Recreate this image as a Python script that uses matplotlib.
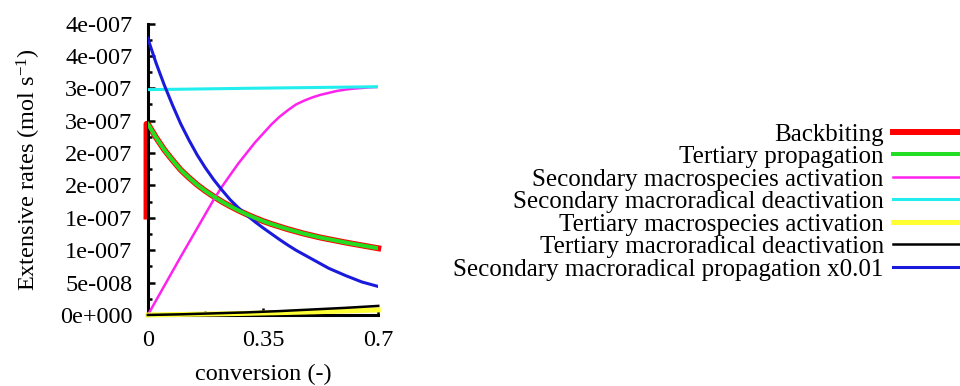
import numpy as np
import matplotlib
matplotlib.use("Agg")
import matplotlib.pyplot as plt
from matplotlib.ticker import FixedLocator

plt.rcParams['font.family'] = ['Liberation Serif', 'DejaVu Serif']
plt.rcParams['mathtext.fontset'] = 'custom'
plt.rcParams['mathtext.rm'] = 'Liberation Serif'
plt.rcParams['mathtext.default'] = 'regular'

# conversion grids (-)
conversion = [0.0, 0.025, 0.05, 0.075, 0.1, 0.125, 0.15, 0.175, 0.2, 0.225, 0.25, 0.275,
              0.3, 0.325, 0.35, 0.375, 0.4, 0.425, 0.45, 0.475, 0.5, 0.525, 0.55, 0.575,
              0.6, 0.625, 0.65, 0.675, 0.7]
conversion_coarse = [0.0, 0.1, 0.2, 0.3, 0.4, 0.5, 0.6, 0.7]

# rates in units of 1e-7 mol/s
tert_prop = [2.95, 2.74, 2.55, 2.39, 2.24, 2.12, 2.01, 1.915, 1.83, 1.75, 1.68, 1.615,
             1.555, 1.50, 1.45, 1.405, 1.365, 1.325, 1.29, 1.255, 1.225, 1.195, 1.17, 1.145,
             1.12, 1.097, 1.075, 1.052, 1.03]
backbiting_x = [-0.004, -0.004] + conversion
backbiting = [1.52, 2.95] + tert_prop
sec_spec_act = [0.0, 0.225, 0.45, 0.675, 0.90, 1.12, 1.34, 1.56, 1.78, 1.98, 2.16, 2.34,
                2.50, 2.66, 2.80, 2.94, 3.06, 3.16, 3.25, 3.31, 3.36, 3.40, 3.43, 3.46,
                3.48, 3.495, 3.505, 3.515, 3.52]
sec_rad_deact = [3.48, 3.486, 3.493, 3.50, 3.506, 3.512, 3.518, 3.525]
tert_spec_act = [0.0, 0.008, 0.016, 0.025, 0.036, 0.048, 0.062, 0.078]
tert_rad_deact = [0.0, 0.01, 0.025, 0.04, 0.06, 0.085, 0.11, 0.14]
sec_rad_prop = [4.27, 3.89, 3.55, 3.24, 2.95, 2.70, 2.47, 2.27, 2.09, 1.93, 1.78, 1.655,
                1.545, 1.44, 1.345, 1.255, 1.165, 1.08, 1.0, 0.93, 0.86, 0.79, 0.72, 0.665,
                0.61, 0.56, 0.51, 0.475, 0.44]

labels = ["Backbiting", "Tertiary propagation", "Secondary macrospecies activation",
          "Secondary macroradical deactivation", "Tertiary macrospecies activation",
          "Tertiary macroradical deactivation", "Secondary macroradical propagation x0.01"]

y_ticks = [0, 0.5, 1.0, 1.5, 2.0, 2.5, 3.0, 3.5, 4.0, 4.5]
y_tick_labels = ["0e+000", "5e-008", "1e-007", "1e-007", "2e-007", "2e-007",
                 "3e-007", "3e-007", "4e-007", "4e-007"]
x_ticks = [0, 0.35, 0.7]
x_tick_labels = ["0", "0.35", "0.7"]

s = 1e-7
fs = 17.5
fig = plt.figure(figsize=(9.6, 3.86), dpi=100)
ax = fig.add_axes([0.154, 0.184, 0.240, 0.755])

h = []
h += ax.plot(backbiting_x, np.array(backbiting) * s, color='#ff0000', lw=4.3, clip_on=False, zorder=2)
h += ax.plot(conversion, np.array(tert_prop) * s, color='#22dd22', lw=2.9, zorder=4)
h += ax.plot(conversion, np.array(sec_spec_act) * s, color='#ff22ee', lw=1.8, zorder=3)
h += ax.plot(conversion_coarse, np.array(sec_rad_deact) * s, color='#22eeee', lw=2.2, zorder=3)
h += ax.plot(conversion_coarse, np.array(tert_spec_act) * s, color='#ffff33', lw=3.6, zorder=3, clip_on=False)
h += ax.plot(conversion_coarse, np.array(tert_rad_deact) * s, color='black', lw=1.8, zorder=3, clip_on=False)
h += ax.plot(conversion, np.array(sec_rad_prop) * s, color='#1a1add', lw=2.2, zorder=3)

ax.set_xlim(0, 0.7)
ax.set_ylim(0, 4.5e-7)
ax.set_xticks(x_ticks)
ax.set_xticklabels(x_tick_labels)
ax.xaxis.set_minor_locator(FixedLocator([0.175, 0.525]))
ax.set_yticks(np.array(y_ticks) * s)
ax.set_yticklabels(y_tick_labels)
ax.yaxis.set_minor_locator(FixedLocator((np.array(y_ticks[:-1]) + 0.25) * s))
ax.tick_params(which='both', direction='in', width=1.8, labelsize=fs, top=False, right=False)
ax.tick_params(axis='y', which='major', length=5, pad=11)
ax.tick_params(axis='x', which='major', length=5, pad=11)
ax.tick_params(which='minor', length=3)
for side in ['top', 'right']:
    ax.spines[side].set_visible(False)
for side in ['left', 'bottom']:
    ax.spines[side].set_linewidth(2.2)

ax.set_xlabel("conversion (-)", fontsize=fs, labelpad=9)
ax.set_ylabel("Extensive rates (mol s$^{-1}$)", fontsize=fs, labelpad=12)

fig.legend(h, labels, loc='center right', bbox_to_anchor=(1.0, 0.477), frameon=False,
           markerfirst=False, fontsize=18, handlelength=2.7, handletextpad=0.35,
           labelspacing=0.0, borderpad=0, borderaxespad=0)

fig.savefig("out.png", dpi=100)
